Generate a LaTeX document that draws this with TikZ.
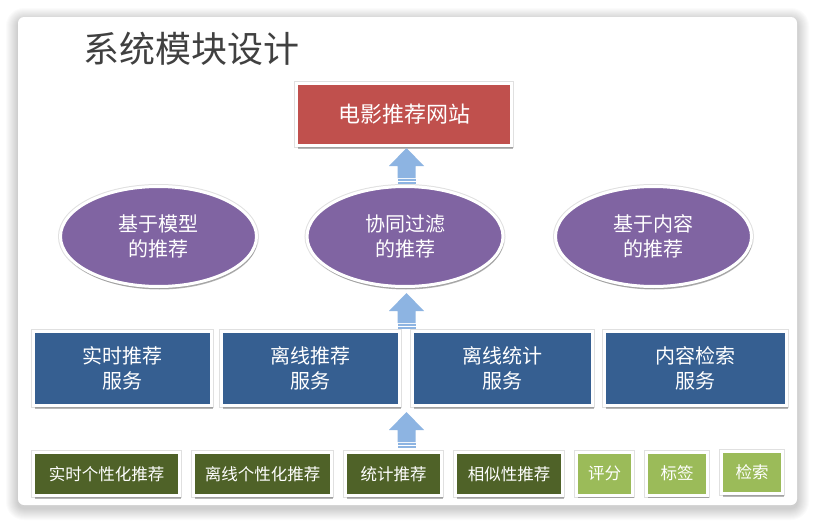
\documentclass[tikz,border=0pt]{standalone}
\usepackage{fontspec}
\setmainfont{Noto Sans CJK SC}
\usetikzlibrary{shadows,shapes.geometric}
\definecolor{webred}{HTML}{C0504D}
\definecolor{algpurple}{HTML}{8064A2}
\definecolor{svcblue}{HTML}{365F91}
\definecolor{modgreen}{HTML}{4F6228}
\definecolor{lightgreen}{HTML}{9BBB59}
\definecolor{arrowblue}{HTML}{8DB4E2}
\definecolor{titlegray}{HTML}{404040}
\tikzset{
  boxbase/.style={draw=white, line width=3pt, inner sep=0pt, align=center, text=white,
    preaction={draw=black, opacity=0.12, line width=5pt},
    drop shadow={shadow xshift=1pt, shadow yshift=-3pt, opacity=0.28, fill=black}},
  webbox/.style={boxbase, rectangle, fill=webred, minimum width=215pt, minimum height=62pt,
    font=\fontsize{22}{26}\selectfont},
  algell/.style={boxbase, ellipse, fill=algpurple, minimum width=196pt, minimum height=100pt,
    font=\fontsize{20}{25}\selectfont},
  svcbox/.style={boxbase, rectangle, fill=svcblue, minimum height=74pt,
    font=\fontsize{20}{25}\selectfont},
  modbox/.style={boxbase, rectangle, fill=modgreen, minimum height=43pt,
    font=\fontsize{16.5}{20}\selectfont},
  litebox/.style={modbox, fill=lightgreen},
  uparr/.pic={
    \fill[arrowblue] (0,0) -- (17.5,18) -- (9,18) -- (9,30) -- (-9,30) -- (-9,18) -- (-17.5,18) -- cycle;
    \fill[arrowblue] (-9,31) rectangle (9,32.6);
    \fill[arrowblue] (-9,33.6) rectangle (9,36);
  }
}
\begin{document}
\begin{tikzpicture}[x=1pt,y=-1pt]
\useasboundingbox (0,0) rectangle (815,525);
\fill[white] (0,0) rectangle (815,525);
% card shadow
\foreach \i in {1,...,12}{
  \pgfmathsetmacro\rr{6+\i}
  \fill[black, opacity=0.016, rounded corners=\rr pt] (18-\i,17-\i+3) rectangle (797+\i,505+\i+3);
}
\fill[white, rounded corners=6pt] (18,17) rectangle (797,505);

% title
\node[text=titlegray, font=\fontsize{36}{40}\selectfont, inner sep=0pt] (title) at (191.5,49) {系统模块设计};

% top
\node[webbox] (web) at (404,114.5) {电影推荐网站};

% algorithms
\node[algell] (e1) at (158.5,236.5) {基于模型\\的推荐};
\node[algell] (e2) at (405,236.5) {协同过滤\\的推荐};
\node[algell] (e3) at (653.5,236.5) {基于内容\\的推荐};

% services
\node[svcbox, minimum width=178pt] (s1) at (122.5,368.5) {实时推荐\\服务};
\node[svcbox, minimum width=178pt] (s2) at (310.5,368.5) {离线推荐\\服务};
\node[svcbox, minimum width=180pt] (s3) at (502.5,368.5) {离线统计\\服务};
\node[svcbox, minimum width=182pt] (s4) at (695.5,368.5) {内容检索\\服务};

% modules
\node[modbox, minimum width=146pt] (m1) at (106.5,474) {实时个性化推荐};
\node[modbox, minimum width=138pt] (m2) at (262.5,474) {离线个性化推荐};
\node[modbox, minimum width=96pt] (m3) at (393.5,474) {统计推荐};
\node[modbox, minimum width=107pt] (m4) at (509,474) {相似性推荐};
\node[litebox, minimum width=56pt] (m5) at (604.5,473.5) {评分};
\node[litebox, minimum width=61pt] (m6) at (677,473.5) {标签};
\node[litebox, minimum width=61pt, minimum height=42pt] (m7) at (752,472.5) {检索};

% block arrows
\coordinate (a1) at (406.5,148);
\coordinate (a2) at (406.5,293);
\coordinate (a3) at (406.5,412);
\pic at (a1) {uparr};
\pic at (a2) {uparr};
\pic at (a3) {uparr};
\end{tikzpicture}
\end{document}
